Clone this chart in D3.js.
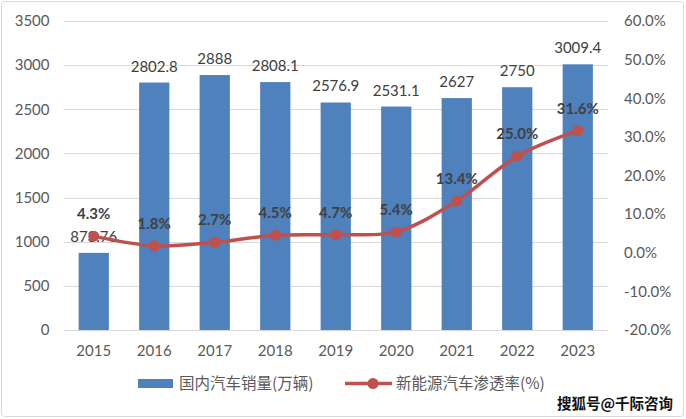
<!DOCTYPE html>
<html><head><meta charset="utf-8">
<script src="https://cdn.jsdelivr.net/npm/d3@7"></script>
<style>
body{margin:0;background:#fff;}
svg{display:block;}
</style></head>
<body>
<svg id="chart" width="686" height="419"></svg>
<script>
const years = ["2015","2016","2017","2018","2019","2020","2021","2022","2023"];
const sales = [873.76, 2802.8, 2888, 2808.1, 2576.9, 2531.1, 2627, 2750, 3009.4];
const salesLabels = ["873.76","2802.8","2888","2808.1","2576.9","2531.1","2627","2750","3009.4"];
const penetration = [4.3, 1.8, 2.7, 4.5, 4.7, 5.4, 13.4, 25.0, 31.6];
const leftTicks = [0,500,1000,1500,2000,2500,3000,3500];
const rightTicks = [-20,-10,0,10,20,30,40,50,60];
const legendNames = ["国内汽车销量(万辆)", "新能源汽车渗透率(%)"];
const watermark = "搜狐号@千际咨询";

const font = "Lato, 'Noto Sans CJK SC', sans-serif";
const cjk = "'Noto Sans CJK SC', Lato, sans-serif";
const barColor = "#4F81BD", lineColor = "#C0504D", textColor = "#595959";

const svg = d3.select("#chart");
svg.append("rect").attr("x",1.5).attr("y",1.5).attr("width",682).attr("height",415)
  .attr("rx",3).attr("fill","#fff").attr("stroke","#d9d9d9").attr("stroke-width",1);

const pL = 63.5, pR = 608, pT = 21, pB = 330;
const x = d3.scaleBand().domain(years).range([pL,pR]).paddingInner(0.5).paddingOuter(0.25);
const yL = d3.scaleLinear().domain([0,3500]).range([pB,pT]);
const yR = d3.scaleLinear().domain([-20,60]).range([pB,pT]);

// gridlines
svg.append("g").selectAll("line").data(leftTicks).join("line")
  .attr("x1",pL).attr("x2",pR).attr("y1",d=>Math.round(yL(d))+0.5).attr("y2",d=>Math.round(yL(d))+0.5)
  .attr("stroke","#d9d9d9").attr("stroke-width",1);

// left axis
const axL = svg.append("g").attr("transform",`translate(${pL},0)`)
  .call(d3.axisLeft(yL).tickValues(leftTicks).tickSize(0).tickPadding(14).tickFormat(d3.format("d")));
axL.select(".domain").remove();
axL.selectAll("text").attr("font-family",font).attr("font-size",15).attr("fill",textColor);

// right axis
const axR = svg.append("g").attr("transform",`translate(${pR},0)`)
  .call(d3.axisRight(yR).tickValues(rightTicks).tickSize(0).tickPadding(16).tickFormat(d=>d.toFixed(1)+"%"));
axR.select(".domain").remove();
axR.selectAll("text").attr("font-family",font).attr("font-size",15).attr("fill",textColor);

// bottom axis
const axB = svg.append("g").attr("transform",`translate(0,${pB})`)
  .call(d3.axisBottom(x).tickSize(0).tickPadding(15));
axB.select(".domain").attr("stroke","#d9d9d9");
axB.selectAll("text").attr("font-family",font).attr("font-size",15).attr("fill",textColor);

// bars
svg.append("g").selectAll("rect").data(years).join("rect")
  .attr("x",d=>x(d)).attr("width",x.bandwidth())
  .attr("y",(d,i)=>yL(sales[i])).attr("height",(d,i)=>pB-yL(sales[i]))
  .attr("fill",barColor);

// bar labels
svg.append("g").selectAll("text").data(years).join("text")
  .attr("x",d=>x(d)+x.bandwidth()/2).attr("y",(d,i)=>yL(sales[i])-11)
  .attr("text-anchor","middle").attr("font-family",font).attr("font-size",15).attr("fill","#404040")
  .text((d,i)=>salesLabels[i]);

// line
const line = d3.line().x((d,i)=>x(years[i])+x.bandwidth()/2).y(d=>yR(d)).curve(d3.curveCatmullRom.alpha(0.5));
svg.append("path").datum(penetration).attr("d",line).attr("fill","none")
  .attr("stroke",lineColor).attr("stroke-width",3.5).attr("stroke-linejoin","round");
svg.append("g").selectAll("circle").data(penetration).join("circle")
  .attr("cx",(d,i)=>x(years[i])+x.bandwidth()/2).attr("cy",d=>yR(d)).attr("r",5.5)
  .attr("fill",lineColor);

// line labels
svg.append("g").selectAll("text").data(penetration).join("text")
  .attr("x",(d,i)=>x(years[i])+x.bandwidth()/2).attr("y",d=>yR(d)-17)
  .attr("text-anchor","middle").attr("font-family",font).attr("font-size",15).attr("font-weight","bold")
  .attr("fill","#404040").text(d=>d.toFixed(1)+"%");

// legend
const lg = svg.append("g");
lg.append("rect").attr("x",138).attr("y",379).attr("width",35).attr("height",9).attr("fill",barColor);
lg.append("text").attr("x",179).attr("y",389).attr("font-family",cjk).attr("font-size",15.5)
  .attr("fill",textColor).text(legendNames[0]);
lg.append("line").attr("x1",345).attr("x2",392).attr("y1",383.5).attr("y2",383.5)
  .attr("stroke",lineColor).attr("stroke-width",3.5);
lg.append("circle").attr("cx",373).attr("cy",383.5).attr("r",5.5).attr("fill",lineColor);
lg.append("text").attr("x",396).attr("y",389).attr("font-family",cjk).attr("font-size",15.5)
  .attr("fill",textColor).text(legendNames[1]);

// watermark
svg.append("text").attr("x",557).attr("y",409).attr("font-family",cjk).attr("font-size",14.5)
  .attr("font-weight","bold").attr("fill","#111").text(watermark);
</script>
</body></html>
